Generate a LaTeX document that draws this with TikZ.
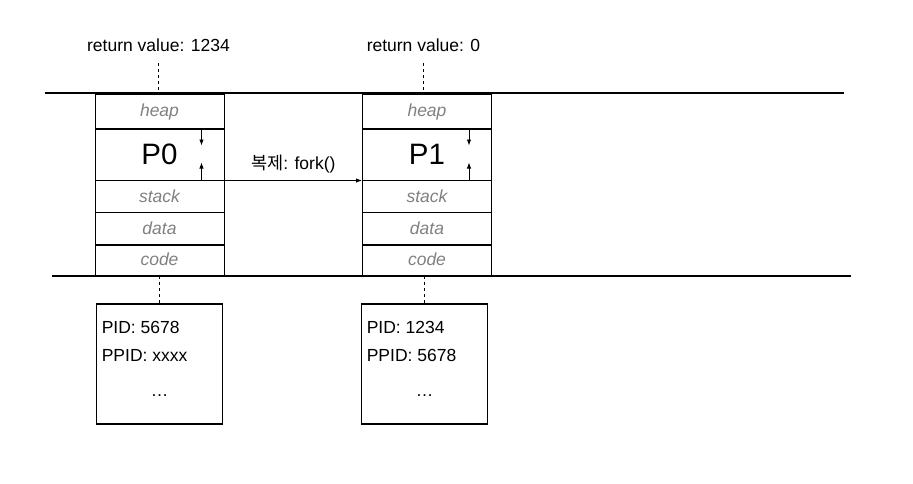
\documentclass[tikz,border=0pt]{standalone}
\usepackage{fontspec}
\setmainfont{Liberation Sans}
\newfontfamily\krfont{Noto Sans CJK KR}
\usetikzlibrary{arrows.meta}
\definecolor{labelgray}{HTML}{808080}

\begin{document}
\begin{tikzpicture}[x=1pt,y=-1pt,
		cell/.style={draw, line width=1pt, minimum width=129pt, inner sep=0pt,
			font=\itshape\fontsize{17.5}{20}\selectfont, text=labelgray},
		infobox/.style={draw, line width=1.8pt, minimum width=126pt, minimum height=120pt},
		txt/.style={font=\fontsize{17.5}{20}\selectfont, inner sep=0pt},
		tip/.style={-{Latex[length=6pt,width=4.5pt]}, line width=0.9pt},
		dashline/.style={line width=0.8pt, dash pattern=on 3pt off 3pt}]
	\useasboundingbox (0,0) rectangle (913,483);
	
	\def\rowA{111.5};
	\def\rowB{154};
	\def\rowC{196};
	\def\rowD{228.5};
	\def\rowE{259.5};
	
	\foreach \i/\x/\y/\ret/\pid/\ppid in {0/159.5/159.5/1234/5678/xxxx, 1/427/424.5/0/1234/5678} {
		\node[cell, minimum height=35pt] (heap\i) at (\x,\rowA) {heap};
		\node[cell, minimum height=52pt, font=\fontsize{29.5}{32}\selectfont, text=black] (P\i) at (\x,\rowB) {P\i};
		\node[cell, minimum height=32pt] (stack\i) at (\x,\rowC) {stack};
		\node[cell, minimum height=33pt] (data\i) at (\x,\rowD) {data};
		\node[cell, minimum height=31pt] (code\i) at (\x,\rowE) {code};
		
		\draw[tip] ([xshift=-23pt]P\i.north east) -- ++(0,18);
		\draw[tip] ([xshift=-23pt]P\i.south east) -- ++(0,-18);
		
		\node[txt] (ret\i) at (\y-1,45) {return value: \ret};
		\draw[dashline] (ret\i) ++(0,18) -- (ret\i |- heap\i.north);
		
		\node[infobox] (info\i) at (\y,364) {};
		\draw[dashline] (info\i.north) -- (info\i.north |- code\i.south);
		\node[txt, anchor=west] (pid\i) at ([shift={(6,24)}]info\i.north west) {PID: \pid};
		\node[txt, anchor=west] (ppid\i) at ([shift={(6,52)}]info\i.north west) {PPID: \ppid};
		\node[txt, anchor=base] (more\i) at ([shift={(0,32)}]info\i.center) {…};
	}
	
	\draw[tip] (P0.south east) -- (P1.south west)
		node[txt, midway, above=7pt] (fork) {{\krfont 복제}: fork()};
	
	\coordinate (topL) at (45,93);
	\coordinate (topR) at (844,93);
	\coordinate (botL) at (52,276);
	\coordinate (botR) at (851,276);
	\draw[line width=2pt] (topL) -- (topR);
	\draw[line width=2pt] (botL) -- (botR);
\end{tikzpicture}
\end{document}
